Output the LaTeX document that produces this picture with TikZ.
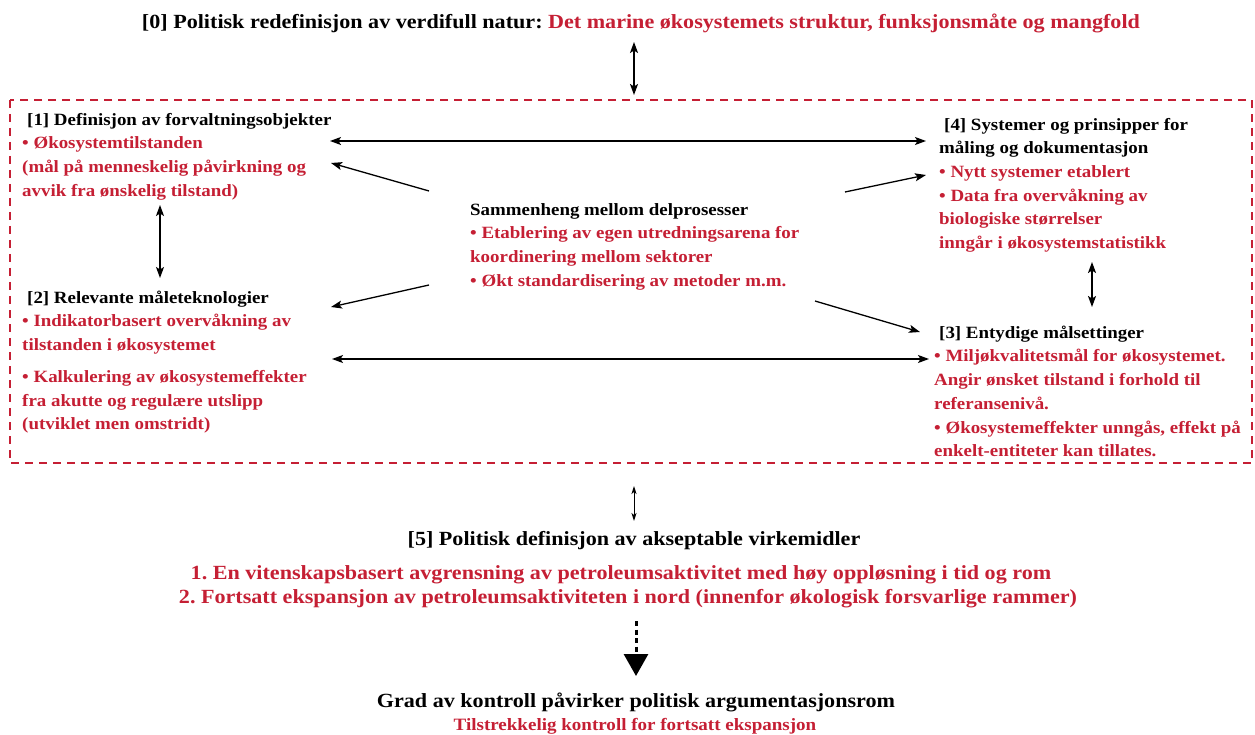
\documentclass[tikz,border=0pt]{standalone}
\usepackage{fontspec}
\setmainfont[FakeStretch=1.1]{Liberation Serif}
\usetikzlibrary{arrows.meta}
\definecolor{redtxt}{RGB}{197,31,52}
\frenchspacing
\begin{document}
\begin{tikzpicture}[x=1pt,y=-1pt,
  blk/.style={inner sep=0pt, anchor=north west, align=left, text=redtxt,
    font=\fontsize{17.2}{23.7}\selectfont\bfseries},
  big/.style={inner sep=0pt, anchor=base, font=\fontsize{20.1}{24}\selectfont\bfseries},
  arr/.style={line width=1.3pt, -{Stealth[length=11pt,width=8pt,inset=2.5pt]}},
  darr/.style={line width=1.3pt, {Stealth[length=11pt,width=8pt,inset=2.5pt]}-{Stealth[length=11pt,width=8pt,inset=2.5pt]}},
  frame/.style={draw=redtxt, line width=1.2pt, dash pattern=on 8pt off 6pt}
  ]
\useasboundingbox (0,0) rectangle (1255,735);
\newcommand{\fl}{\rule{0pt}{13pt}}

% title
\node[big] (n0) at (641,29) {[0] Politisk redefinisjon av verdifull natur: \textcolor{redtxt}{Det marine økosystemets struktur, funksjonsmåte og mangfold}};

% dashed frame
\draw[frame] (10,100) rectangle (1252,463);

% blocks
\node[blk] (n1) at (22,112) {\fl\textcolor{black}{\hspace*{5pt}[1] Definisjon av forvaltningsobjekter}\\
• Økosystemtilstanden\\
(mål på menneskelig påvirkning og\\
avvik fra ønskelig tilstand)};

\node[blk] (n2) at (22,290) {\fl\textcolor{black}{\hspace*{5pt}[2] Relevante måleteknologier}\\
• Indikatorbasert overvåkning av\\
tilstanden i økosystemet\\[8pt]
• Kalkulering av økosystemeffekter\\
fra akutte og regulære utslipp\\
(utviklet men omstridt)};

\node[blk] (nc) at (470,202) {\fl\textcolor{black}{Sammenheng mellom delprosesser}\\
• Etablering av egen utredningsarena for\\
koordinering mellom sektorer\\
• Økt standardisering av metoder m.m.};

\node[blk] (n4) at (939,117) {\fl\textcolor{black}{\hspace*{5pt}[4] Systemer og prinsipper for}\\
\textcolor{black}{måling og dokumentasjon}\\
• Nytt systemer etablert\\
• Data fra overvåkning av\\
biologiske størrelser\\
inngår i økosystemstatistikk};

\node[blk] (n3) at (934,325) {\fl\textcolor{black}{\hspace*{5pt}[3] Entydige målsettinger}\\
• Miljøkvalitetsmål for økosystemet.\\
Angir ønsket tilstand i forhold til\\
referansenivå.\\
• Økosystemeffekter unngås, effekt på\\
enkelt-entiteter kan tillates.};

% [5]
\node[big] (n5) at (634,545) {[5] Politisk definisjon av akseptable virkemidler};
\node[big, text=redtxt] (n5a) at (621,579) {1. En vitenskapsbasert avgrensning av petroleumsaktivitet med høy oppløsning i tid og rom};
\node[big, text=redtxt] (n5b) at (628,603) {2. Fortsatt ekspansjon av petroleumsaktiviteten i nord (innenfor økologisk forsvarlige rammer)};

% final
\node[big] (nf) at (636,707) {Grad av kontroll påvirker politisk argumentasjonsrom};
\node[big, text=redtxt, font=\fontsize{17.3}{20}\selectfont\bfseries] (nfr) at (635,730) {Tilstrekkelig kontroll for fortsatt ekspansjon};

% coordinates
\coordinate (a0s) at (634,42);  \coordinate (a0e) at (634,95);
\coordinate (a14s) at (330,141); \coordinate (a14e) at (926,141);
\coordinate (c1s) at (429,191); \coordinate (c1e) at (331,163);
\coordinate (a12s) at (160,205); \coordinate (a12e) at (160,278);
\coordinate (c2s) at (429,285); \coordinate (c2e) at (331,307);
\coordinate (a23s) at (332,359); \coordinate (a23e) at (929,359);
\coordinate (c4s) at (845,192); \coordinate (c4e) at (926,175);
\coordinate (c3s) at (815,301); \coordinate (c3e) at (920,332);
\coordinate (a43s) at (1092,262); \coordinate (a43e) at (1092,307);
\coordinate (a5s) at (634,486); \coordinate (a5e) at (634,521);
\coordinate (d5s) at (636,621); \coordinate (d5e) at (636,676);

\draw[darr] (a0s) -- (a0e);
\draw[darr] (a14s) -- (a14e);
\draw[arr] (c1s) -- (c1e);
\draw[darr] (a12s) -- (a12e);
\draw[arr] (c2s) -- (c2e);
\draw[darr] (a23s) -- (a23e);
\draw[arr] (c4s) -- (c4e);
\draw[arr] (c3s) -- (c3e);
\draw[darr] (a43s) -- (a43e);
\draw[line width=1pt, {Stealth[length=8pt,width=5pt,inset=2pt]}-{Stealth[length=8pt,width=5pt,inset=2pt]}] (a5s) -- (a5e);
\draw[line width=3pt, dash pattern=on 5pt off 3.5pt, -{Triangle[length=22pt,width=24pt]}] (d5s) -- (d5e);
\end{tikzpicture}
\end{document}
